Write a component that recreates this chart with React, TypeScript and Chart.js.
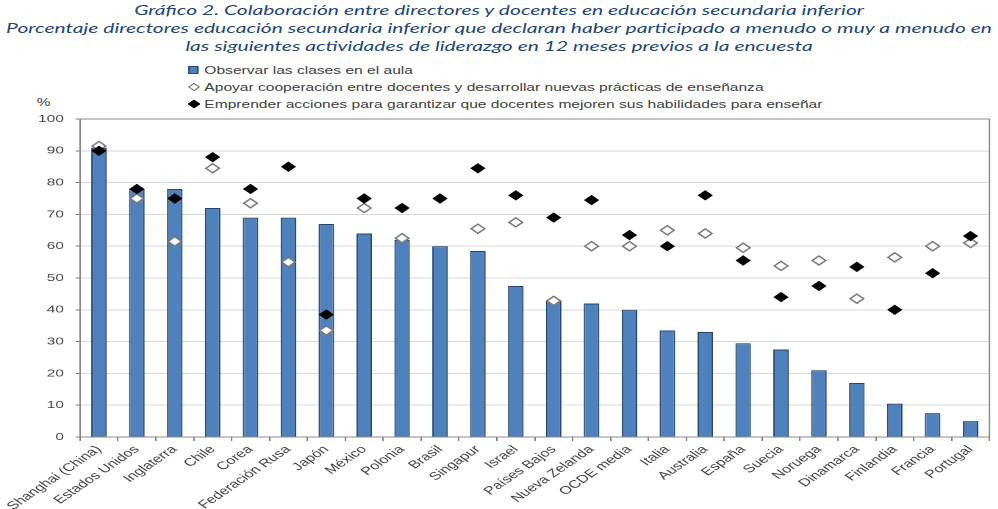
import React, { useEffect, useRef } from 'react';
import { Chart, registerables } from 'chart.js';

// Register Chart.js components
Chart.register(...registerables);

// the source picture is stretched horizontally, so draw narrow and scale the box
const STRETCH = 1.47;
const W = 679;
const H = 509;

const titleLines = [
  'Gráfico 2. Colaboración entre directores y docentes en educación secundaria inferior',
  'Porcentaje directores educación secundaria inferior que declaran haber participado a menudo o muy a menudo en',
  'las siguientes actividades de liderazgo en 12 meses previos a la encuesta',
];

const seriesNames = [
  'Observar las clases en el aula',
  'Apoyar cooperación entre docentes y desarrollar nuevas prácticas de enseñanza',
  'Emprender acciones para garantizar que docentes mejoren sus habilidades para enseñar',
];

const categories = [
  'Shanghai (China)', 'Estados Unidos', 'Inglaterra', 'Chile', 'Corea', 'Federación Rusa',
  'Japón', 'México', 'Polonia', 'Brasil', 'Singapur', 'Israel', 'Países Bajos',
  'Nueva Zelanda', 'OCDE media', 'Italia', 'Australia', 'España', 'Suecia', 'Noruega',
  'Dinamarca', 'Finlandia', 'Francia', 'Portugal',
];

const observar = [
  91, 78, 78, 72, 69, 69, 67, 64, 62, 60, 58.5, 47.5, 43, 42, 40, 33.5, 33, 29.5, 27.5, 21,
  17, 10.5, 7.5, 5,
];

const apoyar = [
  91.5, 75, 61.5, 84.5, 73.5, 55, 33.5, 72, 62.5, null, 65.5, 67.5, 42.8, 60, 60, 65, 64,
  59.5, 53.8, 55.5, 43.5, 56.5, 60, 61,
];

const emprender = [
  90, 78, 75, 88, 78, 85, 38.5, 75, 72, 75, 84.5, 76, 69, 74.5, 63.5, 60, 76, 55.5, 44, 47.5,
  53.5, 40, 51.5, 63.2,
];

const framePlugin = {
  id: 'frame',
  beforeDatasetsDraw(chart: Chart) {
    const { ctx, chartArea } = chart;
    ctx.save();
    ctx.strokeStyle = '#8a8a8a';
    ctx.lineWidth = 1;
    ctx.strokeRect(chartArea.left, chartArea.top, chartArea.right - chartArea.left, chartArea.bottom - chartArea.top);
    ctx.restore();
  },
};

const LegendMark = ({ kind }: { kind: number }) => {
  if (kind === 0) {
    return (
      <span style={{ display: 'inline-block', width: 5, height: 6, background: '#4F81BD', border: '1px solid #2c4a74' }} />
    );
  }
  const fill = kind === 1 ? '#fff' : '#000';
  const edge = kind === 1 ? '#808080' : '#000';
  return (
    <span
      style={{
        display: 'inline-block',
        width: 4,
        height: 4,
        background: fill,
        border: `1px solid ${edge}`,
        transform: 'rotate(45deg)',
        marginLeft: 1,
      }}
    />
  );
};

export default function App() {
  const chartRef = useRef<HTMLCanvasElement>(null);
  const chartInstance = useRef<Chart | null>(null);

  useEffect(() => {
    if (!chartRef.current) return;
    if (chartInstance.current) chartInstance.current.destroy();
    const ctx = chartRef.current.getContext('2d');
    if (!ctx) return;

    const tickFont = { family: '"Liberation Sans", Arial, sans-serif', size: 10.5 };

    chartInstance.current = new Chart(ctx, {
      type: 'bar',
      data: {
        labels: categories,
        datasets: [
          {
            type: 'bar',
            label: seriesNames[0],
            data: observar,
            backgroundColor: '#4F81BD',
            borderColor: '#27446c',
            borderWidth: 1,
            barPercentage: 0.41,
            categoryPercentage: 1,
            order: 3,
          },
          {
            type: 'line',
            label: seriesNames[1],
            data: apoyar,
            showLine: false,
            pointStyle: 'rectRot',
            pointRadius: 4.6,
            pointBackgroundColor: '#ffffff',
            pointBorderColor: '#7a7a7a',
            pointBorderWidth: 1.3,
            order: 2,
          },
          {
            type: 'line',
            label: seriesNames[2],
            data: emprender,
            showLine: false,
            pointStyle: 'rectRot',
            pointRadius: 4.5,
            pointBackgroundColor: '#000000',
            pointBorderColor: '#000000',
            pointBorderWidth: 1,
            order: 1,
          },
        ] as any,
      },
      options: {
        responsive: false,
        animation: false,
        devicePixelRatio: 2,
        layout: { padding: { top: 119, right: W - 990 / STRETCH, left: 0, bottom: 0 } },
        plugins: {
          legend: { display: false },
          title: { display: false },
          tooltip: { enabled: false },
        },
        scales: {
          x: {
            offset: true,
            grid: {
              display: true,
              drawOnChartArea: false,
              drawTicks: true,
              tickLength: 4,
              tickColor: '#7f7f7f',
              offset: true,
            },
            border: { display: true, color: '#7f7f7f' },
            ticks: {
              autoSkip: false,
              minRotation: 45,
              maxRotation: 45,
              padding: 2,
              color: '#404040',
              font: { ...tickFont, size: 11 },
            },
            afterFit: (scale: any) => {
              scale.height = H - 437;
            },
          },
          y: {
            min: 0,
            max: 100,
            grid: { color: '#d9d9d9', tickColor: '#7f7f7f', tickLength: 3 },
            border: { display: true, color: '#7f7f7f' },
            ticks: { stepSize: 10, padding: 8, color: '#404040', font: tickFont },
            afterFit: (scale: any) => {
              scale.width = 80 / STRETCH;
            },
          },
        },
      },
      plugins: [framePlugin],
    });

    return () => {
      if (chartInstance.current) {
        chartInstance.current.destroy();
        chartInstance.current = null;
      }
    };
  }, []);

  const legendFont = '"Liberation Sans", Arial, sans-serif';

  return (
    <div
      style={{
        position: 'fixed',
        left: 0,
        top: 0,
        width: W,
        height: H,
        background: '#fff',
        transform: `scaleX(${STRETCH})`,
        transformOrigin: '0 0',
        overflow: 'hidden',
      }}
    >
      <div
        style={{
          position: 'absolute',
          top: 1,
          left: 0,
          width: W,
          textAlign: 'center',
          fontFamily: 'Lato, sans-serif',
          fontStyle: 'italic',
          fontSize: 14.3,
          lineHeight: '18px',
          color: '#22467a',
          whiteSpace: 'nowrap',
        }}
      >
        {titleLines.map((t) => (
          <div key={t}>{t}</div>
        ))}
      </div>
      {seriesNames.map((name, i) => (
        <div
          key={name}
          style={{
            position: 'absolute',
            left: 127,
            top: 62 + i * 17,
            height: 16,
            display: 'flex',
            alignItems: 'center',
            gap: 4,
            fontFamily: legendFont,
            fontSize: 10.6,
            color: '#404040',
            whiteSpace: 'nowrap',
          }}
        >
          <span style={{ width: 8, display: 'inline-flex', justifyContent: 'center' }}>
            <LegendMark kind={i} />
          </span>
          <span>{name}</span>
        </div>
      ))}
      <div
        style={{
          position: 'absolute',
          left: 25,
          top: 96,
          fontFamily: legendFont,
          fontSize: 10.5,
          color: '#404040',
        }}
      >
        %
      </div>
      <canvas ref={chartRef} width={W} height={H} style={{ position: 'absolute', left: 0, top: 0, width: W, height: H }} />
    </div>
  );
}
